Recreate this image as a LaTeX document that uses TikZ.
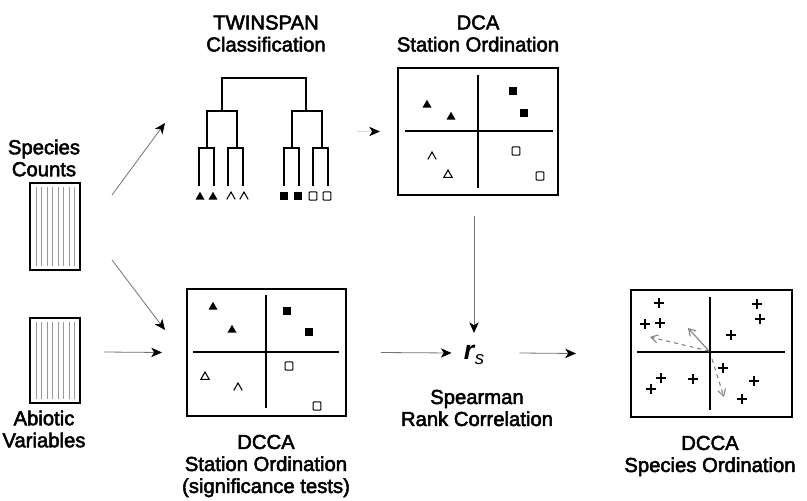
\documentclass[tikz,border=0pt]{standalone}
\usepackage{fontspec}
\setmainfont{Liberation Sans}
\newfontfamily\lblfont[FakeBold=2.5]{Liberation Sans}
\usetikzlibrary{arrows.meta,calc}
\newcommand\ftri[1]{\fill #1 +(-4.5,3.6) -- +(4.5,3.6) -- +(0,-4.2) -- cycle;}
\newcommand\otri[1]{\draw[line width=0.8pt] #1 +(-4.2,3.4) -- +(4.2,3.4) -- +(0,-4) -- cycle;}
\newcommand\ocaret[1]{\draw[line width=0.8pt] #1 +(-4.2,3.4) -- +(0,-4) -- +(4.2,3.4);}
\newcommand\fsq[1]{\fill #1 +(-4.2,-4.2) rectangle +(4.2,4.2);}
\newcommand\osq[1]{\draw[line width=0.8pt,rounded corners=0.6pt] #1 +(-3.8,-4.2) rectangle +(3.8,4.2);}
\newcommand\pls[1]{\draw[line width=1.7pt] #1 +(-4.8,0) -- +(4.8,0) #1 +(0,-4.8) -- +(0,4.8);}
\begin{document}
\begin{tikzpicture}[x=0.75pt,y=-0.75pt,
  lbl/.style={align=center,font=\lblfont\fontsize{15.2}{16.5}\selectfont,inner sep=0pt},
  plotbox/.style={draw,line width=1.6pt,inner sep=0pt,minimum width=#1},
  docbox/.style={draw,line width=1.6pt,inner sep=0pt,minimum width=37.5pt},
  axis/.style={line width=1.2pt},
  den/.style={line width=1.2pt},
  conn/.style={draw=black!55,line width=0.6pt,-{Stealth[black,length=8pt,width=7pt,inset=2.2pt]}},
  vec/.style={draw=black!50,line width=0.8pt,-{Straight Barb[length=5pt,width=6pt]}}]
\useasboundingbox (0,0) rectangle (807,500);

% labels
\node[lbl] (lsc) at (44,158) {Species\\Counts};
\node[lbl] (lab) at (44,429) {Abiotic\\Variables};
\node[lbl] (ltw) at (266,33.5) {TWINSPAN\\Classification};
\node[lbl] (ldca) at (478,33.5) {DCA\\Station Ordination};
\node[lbl] (ldcca) at (266,466) {DCCA\\Station Ordination\\(significance tests)};
\node[lbl] (lsp) at (477,408) {Spearman\\Rank Correlation};
\node[lbl] (lspo) at (710,456) {DCCA\\Species Ordination};

% document boxes
\node[docbox,minimum height=65.25pt] (sc) at (55,226.5) {};
\node[docbox,minimum height=63.75pt] (ab) at (55,360.5) {};
\foreach \i in {0,...,7}{
  \draw[black!40,line width=0.6pt] (36+\i*5.5,187) -- (36+\i*5.5,266);
  \draw[black!40,line width=0.6pt] (36+\i*5.5,322) -- (36+\i*5.5,399);
}

% dendrogram
\draw[den] (222,111) -- (222,78) -- (306,78) -- (306,111);
\draw[den] (207,148) -- (207,111) -- (237,111) -- (237,148);
\draw[den] (292,148) -- (292,111) -- (322,111) -- (322,148);
\draw[den] (199,186) -- (199,148) -- (214,148) -- (214,186);
\draw[den] (228,186) -- (228,148) -- (243,148) -- (243,186);
\draw[den] (284,186) -- (284,148) -- (299,148) -- (299,186);
\draw[den] (313,186) -- (313,148) -- (328,148) -- (328,186);
\ftri{(200,196)} \ftri{(213,196)}
\ocaret{(231,196)} \ocaret{(244,196)}
\fsq{(284,196)} \fsq{(298,196)}
\osq{(313,196)} \osq{(327,196)}

% DCA box
\node[plotbox=120pt,minimum height=95.25pt] (dca) at (478,131.5) {};
\draw[axis] (405,131) -- (553,131);
\draw[axis] (478,75) -- (478,188);
\ftri{(427,104)} \ftri{(451,116)}
\fsq{(513,91)} \fsq{(524,113)}
\ocaret{(432,156)} \otri{(448,174)}
\osq{(516,151)} \osq{(540,176)}

% DCCA station box
\node[plotbox=119.25pt,minimum height=95.25pt] (dcca) at (266.5,352.5) {};
\draw[axis] (193,352) -- (339,352);
\draw[axis] (266,295) -- (266,408);
\ftri{(213,306)} \ftri{(232,329)}
\fsq{(287,311)} \fsq{(309,332)}
\otri{(205,376)} \ocaret{(238,387)}
\osq{(289,366)} \osq{(317,406)}

% DCCA species box
\node[plotbox=120.75pt,minimum height=95.25pt] (spo) at (711.5,353.5) {};
\draw[axis] (637,352) -- (785,352);
\draw[axis] (710,297) -- (710,410);
\foreach \p in {(659,303),(757,304),(645,324),(660,323),(760,319),(731,335),
                (723,368),(661,378),(693,379),(651,389),(754,381),(742,399)}{\pls{\p}}
\coordinate (org) at (709,351);
\coordinate (v1) at (650,337);
\coordinate (v2) at (688,328);
\coordinate (v3) at (724,397);
\draw[vec,dashed] (org) -- (v1);
\draw[vec] (org) -- (v2);
\draw[vec,dashed] ($(org)+(3,8)$) -- (v3);

% r_s
\node[inner sep=0pt] (rs) at (474,355) {\fontsize{20}{20}\selectfont\bfseries\itshape r\kern0.5pt\raisebox{-0.35ex}{\fontsize{14}{14}\selectfont\mdseries s}};

% connectors
\coordinate (c1s) at (112,195);
\coordinate (c1e) at (165,123);
\coordinate (c2s) at (112,260);
\coordinate (c2e) at (165,330);
\draw[conn] (c1s) -- (c1e);
\draw[conn] (c2s) -- (c2e);
\draw[conn] ($(ab.east)+(23,-8.5)$) -- ($(dcca.west)+(-24,0)$);
\draw[conn,draw=black!15] ($(dca.west)+(-40,0)$) -- ($(dca.west)+(-17,0)$);
\draw[conn] ($(dca.south)+(-4,20)$) -- ($(rs.north)+(0,-12)$);
\draw[conn] ($(dcca.east)+(34,0)$) -- ($(rs.west)+(-12,-2)$);
\draw[conn] ($(rs.east)+(35,-2)$) -- ($(spo.west)+(-54,0)$);
\end{tikzpicture}
\end{document}
